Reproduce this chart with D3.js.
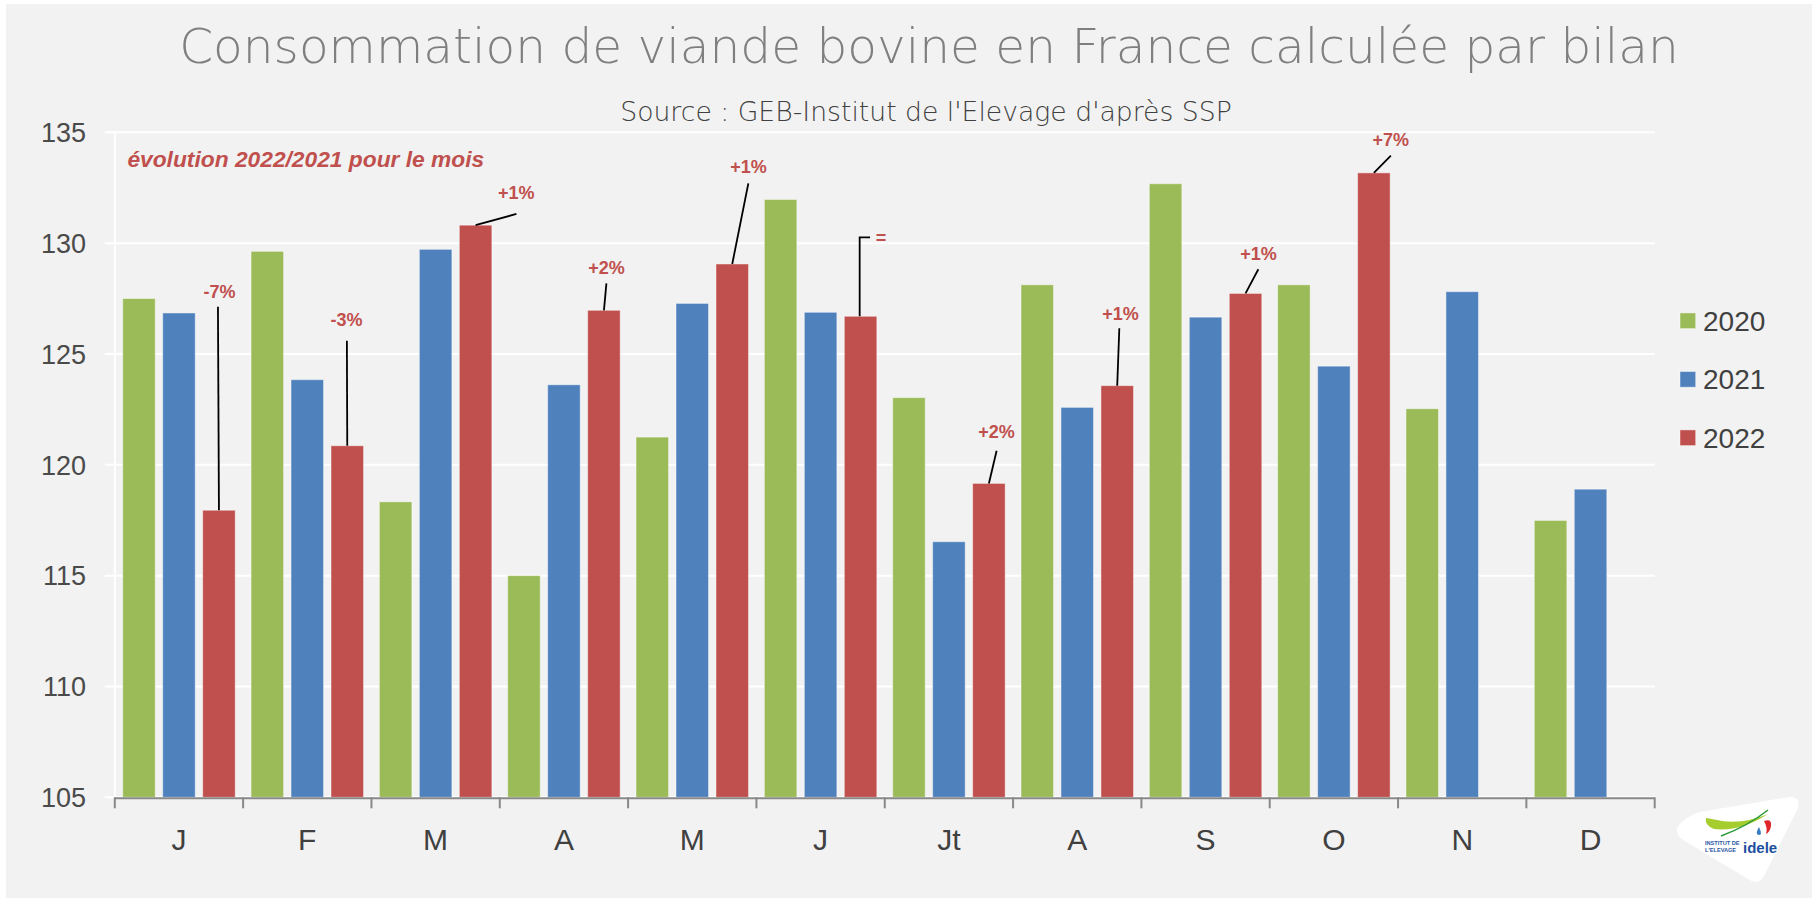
<!DOCTYPE html>
<html lang="fr">
<head>
<meta charset="utf-8">
<script src="https://cdn.jsdelivr.net/npm/d3@7"></script>
<style>
  html, body { margin: 0; padding: 0; background: #ffffff; }
  svg { display: block; }
</style>
</head>
<body>
<svg id="chart" width="1813" height="899"></svg>
<script>
// Monthly beef consumption computed by balance (France)
const months = ["J", "F", "M", "A", "M", "J", "Jt", "A", "S", "O", "N", "D"];
const years = ["2020", "2021", "2022"];
const values2020 = [127.5, 129.63, 118.33, 115.0, 121.25, 131.97, 123.03, 128.12, 132.68, 128.12, 122.53, 117.49];
const values2021 = [126.85, 123.84, 129.72, 123.61, 127.28, 126.88, 116.53, 122.59, 126.66, 124.45, 127.81, 118.9];
const values2022 = [117.95, 120.86, 130.81, 126.97, 129.06, 126.7, 119.16, 123.57, 127.73, 133.17, null, null];
const yTicks = [105, 110, 115, 120, 125, 130, 135];
const changeLabels = ["-7%", "-3%", "+1%", "+2%", "+1%", "=", "+2%", "+1%", "+1%", "+7%"];
const colors = { "2020": "#9bbb59", "2021": "#4f81bd", "2022": "#c0504d" };

const series = [
  { year: "2020", values: values2020 },
  { year: "2021", values: values2021 },
  { year: "2022", values: values2022 }
];

// Callout placement relative to the top centre of each 2022 bar:
// label = [dx, dy] of the text baseline centre, line = points leading to the bar top
const calloutLayout = [
  { label: [0.5, -212], line: [[-1, -203.5]] },
  { label: [-0.8, -119.7], line: [[-0.4, -105]] },
  { label: [40.6, -26.2], line: [[40.8, -11.2]] },
  { label: [2.5, -36], line: [[2.5, -27]] },
  { label: [16.2, -90.9], line: [[16.1, -80.6]] },
  { label: [20.5, -72], line: [[9.5, -79], [-0.9, -79]], left: true },
  { label: [7.5, -45.4], line: [[7.7, -32.7]] },
  { label: [3.2, -65.7], line: [[2.1, -57.4]] },
  { label: [12.9, -33.5], line: [[12.8, -24.2]] },
  { label: [17, -26.9], line: [[17, -17.2]] }
];

const svg = d3.select("#chart");
const W = 1813, H = 899;
const plot = { left: 114.8, right: 1654.7, top: 132.3, bottom: 797.3 };

// page background
svg.append("rect").attr("x", 6).attr("y", 4).attr("width", W - 7).attr("height", H - 5).attr("fill", "#f2f2f2");

const x = d3.scaleBand().domain(d3.range(months.length)).range([plot.left, plot.right])
  .paddingInner(0.1234).paddingOuter(0.0617);
const xs = d3.scaleBand().domain(years).range([0, x.bandwidth()])
  .paddingInner(0.1867).paddingOuter(0);
const y = d3.scaleLinear().domain([105, 135]).range([plot.bottom, plot.top]);
const step = x.step();
const bandStart = i => plot.left + i * step;

// horizontal gridlines
svg.append("g").selectAll("line").data(yTicks).join("line")
  .attr("x1", plot.left - 10).attr("x2", plot.right)
  .attr("y1", d => y(d)).attr("y2", d => y(d))
  .attr("stroke", "#ffffff").attr("stroke-width", 2);

// vertical axis line
svg.append("line").attr("x1", plot.left).attr("x2", plot.left)
  .attr("y1", plot.top).attr("y2", plot.bottom)
  .attr("stroke", "#ffffff").attr("stroke-width", 2);

// y tick labels
svg.append("g").selectAll("text").data(yTicks).join("text")
  .attr("x", 86).attr("y", d => y(d)).attr("dy", "0.36em")
  .attr("text-anchor", "end")
  .attr("font-family", "'Liberation Sans', Arial, sans-serif").attr("font-size", 27)
  .attr("fill", "#4a4a4a")
  .text(d => d);

// bars
const barsG = svg.append("g");
series.forEach(s => {
  barsG.append("g").selectAll("rect")
    .data(s.values.map((v, i) => ({ v, i })).filter(d => d.v != null))
    .join("rect")
    .attr("x", d => x(d.i) + xs(s.year))
    .attr("width", xs.bandwidth())
    .attr("y", d => y(d.v))
    .attr("height", d => y(105) - y(d.v))
    .attr("fill", colors[s.year])
    .attr("stroke", "rgba(255,255,255,0.45)")
    .attr("stroke-width", 1);
});

// x axis
svg.append("line").attr("x1", plot.left).attr("x2", plot.right)
  .attr("y1", plot.bottom + 1).attr("y2", plot.bottom + 1)
  .attr("stroke", "#898989").attr("stroke-width", 2);
svg.append("g").selectAll("line").data(d3.range(months.length + 1)).join("line")
  .attr("x1", d => bandStart(d)).attr("x2", d => bandStart(d))
  .attr("y1", plot.bottom).attr("y2", plot.bottom + 11)
  .attr("stroke", "#898989").attr("stroke-width", 2);
svg.append("g").selectAll("text").data(months).join("text")
  .attr("x", (d, i) => x(i) + x.bandwidth() / 2)
  .attr("y", 850)
  .attr("text-anchor", "middle")
  .attr("font-family", "'Liberation Sans', Arial, sans-serif").attr("font-size", 30)
  .attr("fill", "#404040")
  .text(d => d);

// callouts: change 2022 vs 2021 for each month
const calloutG = svg.append("g");
changeLabels.forEach((lab, i) => {
  const cx = x(i) + xs("2022") + xs.bandwidth() / 2;
  const cy = y(values2022[i]);
  const lay = calloutLayout[i];
  const pts = lay.line.map(p => [cx + p[0], cy + p[1]]).concat(lay.left ? [[cx - 0.9, cy]] : [[cx, cy]]);
  calloutG.append("path")
    .attr("d", d3.line()(pts))
    .attr("fill", "none").attr("stroke", "#000000").attr("stroke-width", 1.8);
  calloutG.append("text")
    .attr("x", cx + lay.label[0]).attr("y", cy + lay.label[1])
    .attr("text-anchor", "middle")
    .attr("font-family", "'Liberation Sans', Arial, sans-serif").attr("font-weight", "bold")
    .attr("font-size", 18).attr("fill", "#c0504d")
    .text(lab);
});

// helper: scale font so the text spans the wanted width
function fitWidth(sel, target) {
  const w = sel.node().getComputedTextLength();
  const fs = parseFloat(sel.attr("font-size"));
  sel.attr("font-size", fs * target / w);
}

// note inside plot
const note = svg.append("text")
  .attr("x", 127.4).attr("y", 166.7)
  .attr("font-family", "'Liberation Sans', Arial, sans-serif")
  .attr("font-weight", "bold").attr("font-style", "italic")
  .attr("font-size", 20).attr("fill", "#c0504d")
  .text("évolution 2022/2021 pour le mois");
fitWidth(note, 357);

// title + source
const title = svg.append("text")
  .attr("x", 929).attr("y", 63).attr("text-anchor", "middle")
  .attr("font-family", "'DejaVu Sans', sans-serif").attr("font-weight", 200)
  .attr("font-size", 44).attr("fill", "#7f7f7f")
  .text("Consommation de viande bovine en France calculée par bilan");
fitWidth(title, 1500);

const source = svg.append("text")
  .attr("x", 926).attr("y", 121).attr("text-anchor", "middle")
  .attr("font-family", "'DejaVu Sans', sans-serif").attr("font-weight", 300)
  .attr("font-size", 20).attr("fill", "#404040")
  .text("Source : GEB-Institut de l'Elevage d'après SSP");
fitWidth(source, 612);

// legend
const legend = svg.append("g");
const legendY = [320.7, 379.3, 437.7];
years.forEach((yr, k) => {
  legend.append("rect")
    .attr("x", 1680).attr("y", legendY[k] - 7.8).attr("width", 15.7).attr("height", 15.7)
    .attr("fill", colors[yr]).attr("stroke", "rgba(255,255,255,0.45)").attr("stroke-width", 1);
  legend.append("text")
    .attr("x", 1703).attr("y", legendY[k]).attr("dy", "0.36em")
    .attr("font-family", "'Liberation Sans', Arial, sans-serif").attr("font-size", 28)
    .attr("fill", "#404040")
    .text(yr);
});

// institute logo
const logo = svg.append("g");
logo.append("path")
  .attr("d", "M1681,823 Q1672,831 1683,840 L1748,879 Q1758,886 1764,876 L1797,810 Q1802,796 1789,797 L1700,812 Q1689,815 1681,823 Z")
  .attr("fill", "#ffffff");
logo.append("path")
  .attr("d", "M1706,818 Q1704,825 1714,829 Q1740,832 1768,814 Q1745,824 1722,821 Q1712,819 1706,818 Z")
  .attr("fill", "#a5cd2d");
logo.append("path")
  .attr("d", "M1721,836 Q1748,826 1768,810")
  .attr("fill", "none").attr("stroke", "#2e9a3a").attr("stroke-width", 1.6);
logo.append("path")
  .attr("d", "M1764,821 Q1772,818 1771,826 Q1770,832 1766,834 Q1768,828 1764,821 Z")
  .attr("fill", "#e0262b");
logo.append("path")
  .attr("d", "M1759,827 Q1756,832 1757,834 Q1759,836 1761,834 Q1761,831 1759,827 Z")
  .attr("fill", "#3b7dc4");
logo.append("text").attr("x", 1705).attr("y", 845)
  .attr("font-family", "'Liberation Sans', Arial, sans-serif").attr("font-weight", "bold")
  .attr("font-size", 5.6).attr("fill", "#2a57a5").text("INSTITUT DE");
logo.append("text").attr("x", 1705).attr("y", 852)
  .attr("font-family", "'Liberation Sans', Arial, sans-serif").attr("font-weight", "bold")
  .attr("font-size", 5.6).attr("fill", "#2a57a5").text("L'ELEVAGE");
logo.append("text").attr("x", 1743).attr("y", 852.7)
  .attr("font-family", "'Liberation Sans Narrow', 'Liberation Sans', Arial, sans-serif").attr("font-weight", "bold")
  .attr("font-size", 15).attr("fill", "#1d4f9f").text("idele");
</script>
</body>
</html>
